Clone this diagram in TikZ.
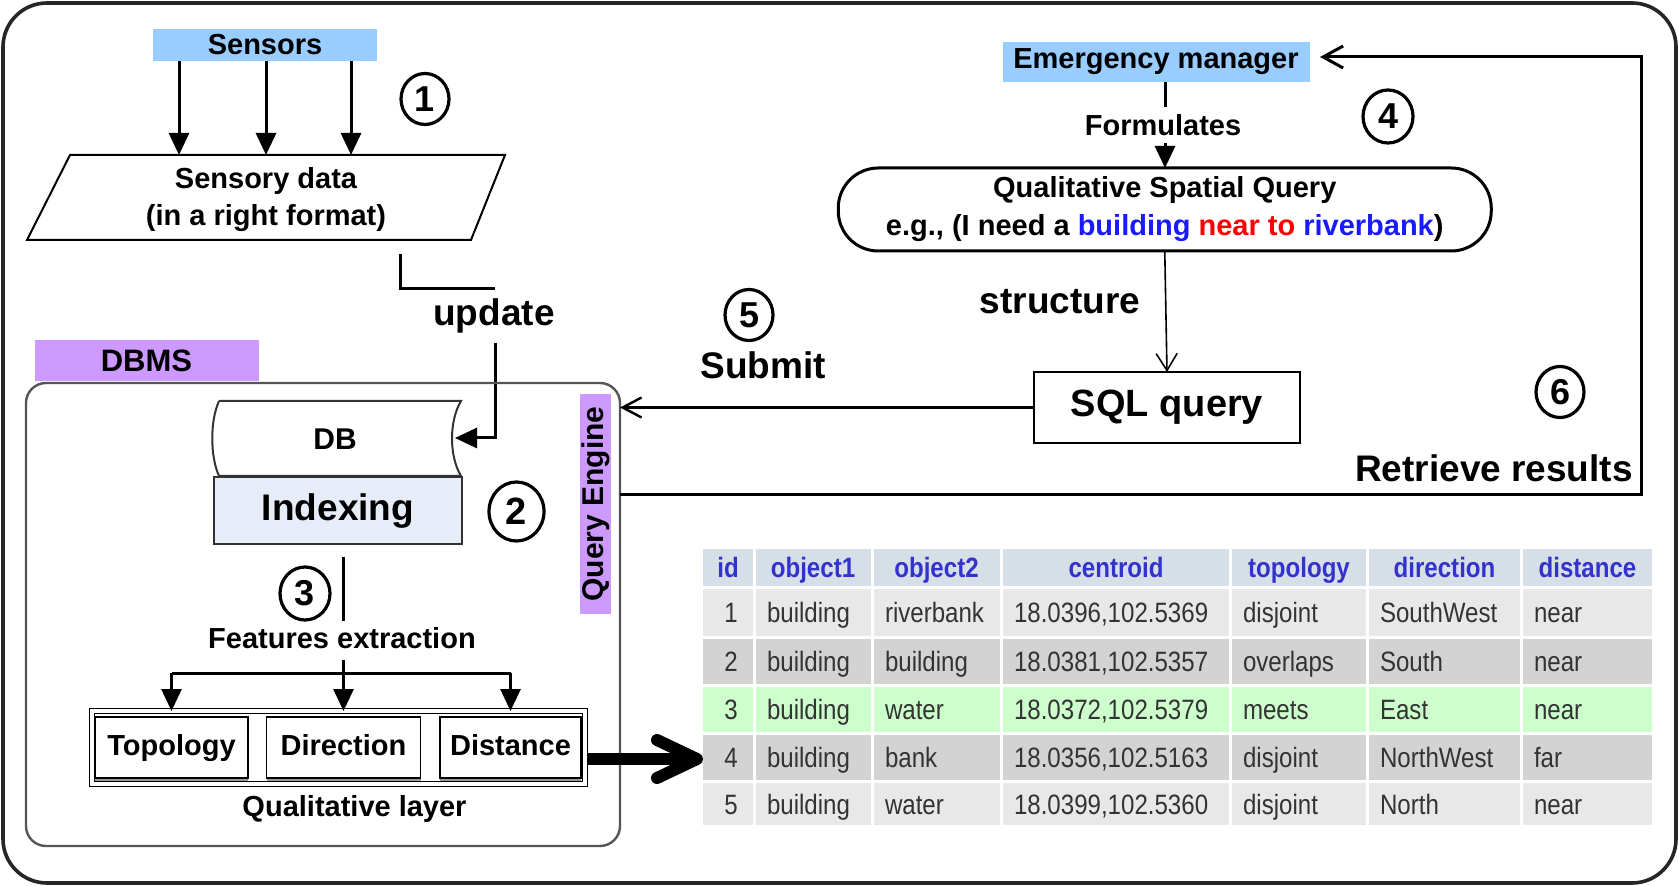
\documentclass[tikz,border=0pt]{standalone}
\usepackage{fontspec}
\setmainfont{Liberation Sans}
\newfontfamily\narrowfont[FakeStretch=0.86]{Liberation Sans}
\usetikzlibrary{arrows.meta,shapes.geometric,shadows}
\definecolor{skyblue}{HTML}{99CCFF}
\definecolor{lilac}{HTML}{CC99FF}
\definecolor{idxfill}{HTML}{E6EDF8}
\definecolor{hdrfill}{HTML}{D6DEE8}
\definecolor{rowlight}{HTML}{E8E8E8}
\definecolor{rowdark}{HTML}{D3D3D3}
\definecolor{rowgreen}{HTML}{CCFFCC}
\definecolor{hdrtext}{HTML}{3333CC}
\definecolor{celltext}{HTML}{333333}
\definecolor{qblue}{HTML}{1A1AFF}
\definecolor{qred}{HTML}{FF0000}
\definecolor{framegray}{HTML}{555555}
\definecolor{dkgray}{HTML}{333333}
\begin{document}
\begin{tikzpicture}[x=0.5pt,y=-0.5pt,
  every node/.style={inner sep=0pt,outer sep=0pt},
  lab/.style={font=\bfseries\fontsize{14.5}{18.5}\selectfont,align=center},
  biglab/.style={font=\bfseries\fontsize{18.5}{22}\selectfont},
  conn/.style={line width=1.5pt},
  farrow/.style={line width=1.5pt,-{Triangle[length=11pt,width=10pt]}},
  numc/.style={ellipse,draw,line width=1.6pt,minimum width=24pt,minimum height=25.5pt,font=\bfseries\fontsize{18}{18}\selectfont},
  qbox/.style={draw,line width=0.8pt,fill=white,minimum height=30.5pt,text height=10.5pt,text depth=3pt,font=\bfseries\fontsize{14.5}{17}\selectfont,drop shadow={shadow xshift=0pt,shadow yshift=-1.3pt,fill=black!40,opacity=1}},
  hdr/.style={font=\narrowfont\bfseries\fontsize{14}{16}\selectfont,text=hdrtext,text height=10pt,text depth=0pt},
  cell/.style={font=\narrowfont\fontsize{14}{16}\selectfont,text=celltext,anchor=west,text height=10pt,text depth=0pt},
]
\useasboundingbox (0,0) rectangle (1679,886);
\draw[line width=1.8pt,draw=black!85,rounded corners=22pt] (3,3) rectangle (1676,883);

% ---------- sensors ----------
\node[lab,fill=skyblue,minimum width=112pt,minimum height=16pt] (sensors) at (265,45) {Sensors};
\coordinate (pa) at (70,155);
\coordinate (pb) at (505,155);
\coordinate (pc) at (471,240);
\coordinate (pd) at (27,240);
\draw[line width=1pt] (pa) -- (pb) -- (pc) -- (pd) -- cycle;
\node[lab] (sdata) at (266,200) {Sensory data\\(in a right format)};
\foreach \x [count=\i] in {179,266,351} {
  \coordinate (s\i) at (\x,155);
  \draw[farrow] (sensors.south -| s\i) -- (s\i);
}
\node[numc] (n1) at (425,99) {1};

% ---------- update ----------
\coordinate (u1) at (400,254);
\coordinate (u2) at (495,289);
\draw[conn] (u1) |- (u2);
\node[biglab] (upd) at (494,316) {update};
\coordinate (u3) at (495,343);
\coordinate (dbin) at (455,438);
\draw[farrow] (u3) |- (dbin);

% ---------- DBMS ----------
\node[lab,font=\bfseries\fontsize{15.5}{17}\selectfont,fill=lilac,minimum width=112pt,minimum height=20.5pt] (dbmslab) at (146.5,360.5) {DBMS};
\node[draw=framegray,line width=1.2pt,rounded corners=10pt,minimum width=297pt,minimum height=231.5pt] (dbms) at (323,614.5) {};

\node[draw=dkgray,line width=1pt,fill=idxfill,minimum width=124pt,minimum height=33.5pt,biglab] (idx) at (338,511) {Indexing};
\draw[draw=dkgray,line width=1pt,fill=white] (219,401) -- (461,401) .. controls (449,421) and (449,456) .. (461,476) -- (219,476) .. controls (210,456) and (210,421) .. (219,401);
\node[lab,font=\bfseries\fontsize{15}{17}\selectfont] (db) at (335,439) {DB};
\node[numc,minimum width=27.5pt,minimum height=29.5pt,font=\bfseries\fontsize{19}{19}\selectfont] (n2) at (516.5,511.5) {2};

\coordinate (f1) at (343,557);
\coordinate (f2) at (343,621);
\draw[conn] (f1) -- (f2);
\node[numc,minimum width=25pt,minimum height=26.5pt] (n3) at (305,593.5) {3};
\node[lab] (feat) at (342,638.5) {Features extraction};

\node[draw,line width=0.7pt,double,double distance=1.6pt,minimum width=246.5pt,minimum height=36.5pt] (qlayer) at (338.5,747.5) {};
\node[qbox,minimum width=76.5pt] (topo) at (171.5,747.5) {Topology};
\node[qbox,minimum width=77pt] (dir) at (343.5,747.5) {Direction};
\node[qbox,minimum width=70.5pt] (dist) at (510.5,747.5) {Distance};

\coordinate (fb) at (343.5,660);
\coordinate (bj) at (343.5,673);
\draw[conn] (topo.north |- bj) -- (dist.north |- bj);
\draw[farrow] (fb) -- (dir.north |- qlayer.north);
\draw[farrow] (topo.north |- bj) -- (topo.north |- qlayer.north);
\draw[farrow] (dist.north |- bj) -- (dist.north |- qlayer.north);
\node[lab] (qlab) at (354.5,808.5) {Qualitative layer};

\node[lab,font=\bfseries\fontsize{15}{17}\selectfont,fill=lilac,minimum width=110pt,minimum height=15.5pt,rotate=90] (qe) at (595.5,504) {Query Engine};

% thick arrow to table
\coordinate (ta) at (588,759);
\coordinate (tm) at (690,759);
\coordinate (tt) at (697,759);
\draw[line width=6pt] (ta) -- (tm);
\draw[line width=6pt,line cap=round,line join=round] (657,740) -- (tt) -- (657,778);

% ---------- right part ----------
\node[lab,fill=skyblue,minimum width=153.5pt,minimum height=20pt] (em) at (1156,62) {Emergency manager};
\node[draw,line width=1.5pt,rounded corners=20pt,minimum width=326.5pt,minimum height=41.5pt,font=\bfseries\fontsize{14.5}{19}\selectfont,align=center] (qsq) at (1164.75,209.5)
  {Qualitative Spatial Query\\e.g., (I need a \textcolor{qblue}{building} \textcolor{qred}{near to} \textcolor{qblue}{riverbank})};
\coordinate (fx) at (1165,107);
\draw[conn] (em.south -| fx) -- (fx);
\node[lab] (form) at (1163,125) {Formulates};
\coordinate (fy) at (1165,143);
\draw[farrow] (fy) -- (qsq.north -| fy);
\node[numc,minimum width=25pt,minimum height=26.5pt] (n4) at (1388,116.5) {4};

\node[draw,line width=1.2pt,minimum width=133pt,minimum height=35.5pt,font=\bfseries\fontsize{19}{22}\selectfont] (sql) at (1167,407.5) {SQL query};
\node[biglab] (struct) at (1060,302) {structure};
\draw[line width=0.8pt,-{Straight Barb[length=8.5pt,width=10.5pt]}] (qsq.south) -- (sql.north);

\draw[line width=1.2pt,-{Straight Barb[length=9.5pt,width=10pt]}] (sql.west) -- (sql.west -| dbms.east);
\node[numc] (n5) at (749,315) {5};
\node[biglab] (submit) at (763,365) {Submit};

\coordinate (r1) at (1641,495);
\coordinate (r2) at (1641,57);
\coordinate (emin) at (1320,57);
\draw[line width=1.5pt,-{Straight Barb[length=10pt,width=11pt]}] (dbms.east |- r1) -- (r1) -- (r2) -- (emin);
\node[numc] (n6) at (1560,392) {6};
\node[biglab] (ret) at (1494,468) {Retrieve results};

% ---------- table ----------
\foreach \ya/\yb/\col in {549/586/hdrfill,589/636/rowlight,639/684/rowdark,687/732/rowgreen,735/780/rowdark,783/825/rowlight} {
  \fill[\col] (703,\ya) rectangle (1652,\yb);
}
\foreach \x in {754.5,872,1001,1230.5,1367.5,1521.5} {
  \draw[white,line width=1.5pt] (\x,549) -- (\x,825);
}
\foreach \t/\x [count=\i] in {id/728,object1/813,object2/936.5,centroid/1116,topology/1299,direction/1444.5,distance/1587.5} {
  \node[hdr] (h\i) at (\x,567.5) {\t};
}
\foreach \y/\a/\b/\c/\d/\e/\f/\g [count=\r] in {
  612.5/1/building/riverbank/{18.0396,102.5369}/disjoint/SouthWest/near,
  661.5/2/building/building/{18.0381,102.5357}/overlaps/South/near,
  709.5/3/building/water/{18.0372,102.5379}/meets/East/near,
  757.5/4/building/bank/{18.0356,102.5163}/disjoint/NorthWest/far,
  804/5/building/water/{18.0399,102.5360}/disjoint/North/near} {
  \node[cell,anchor=center] (c\r-1) at (731,\y) {\a};
  \node[cell] (c\r-2) at (767,\y) {\b};
  \node[cell] (c\r-3) at (885,\y) {\c};
  \node[cell] (c\r-4) at (1014,\y) {\d};
  \node[cell] (c\r-5) at (1243,\y) {\e};
  \node[cell] (c\r-6) at (1380,\y) {\f};
  \node[cell] (c\r-7) at (1534,\y) {\g};
}
\end{tikzpicture}
\end{document}
